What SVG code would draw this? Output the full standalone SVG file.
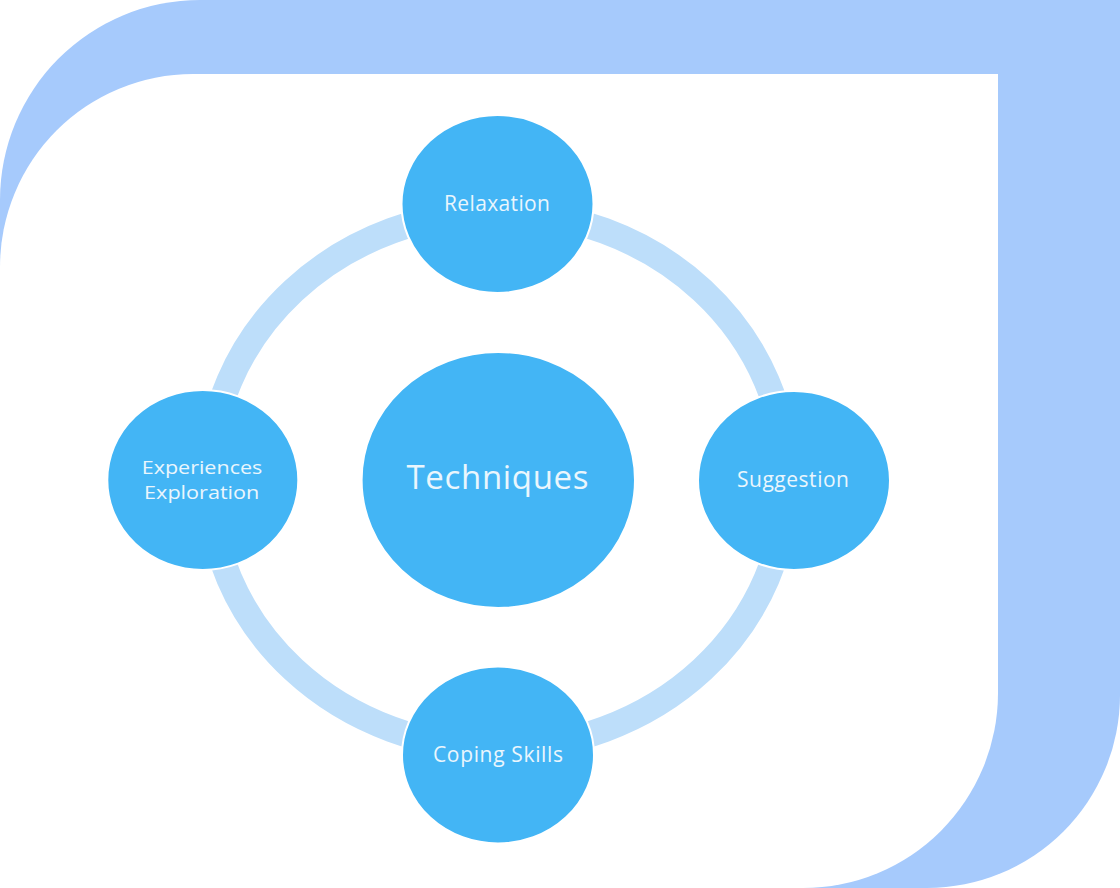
<svg xmlns="http://www.w3.org/2000/svg" width="1120" height="888" viewBox="0 0 1120 888">
<style>
.bg{fill:#a6cafc}
.inner{fill:#ffffff}
.node{fill:#43b5f5;stroke:#ffffff;stroke-width:2}
.ring{fill:none;stroke:#bddefa;stroke-width:26}
.lbl{font-family:"Open Sans","Noto Sans","Liberation Sans",sans-serif;fill:#eaf6fd;text-anchor:middle;font-size:21px}
.two{font-size:18px}
.big{font-size:33px}
</style>
<rect width="1120" height="888" fill="#ffffff"/>
<path class="bg" d="M0,200 A200,200 0 0 1 200,0 H1120 V695 A193,193 0 0 1 927,888 H0 Z"/>
<path class="inner" d="M0,267 A193,193 0 0 1 193,74 H998 V693 A195,195 0 0 1 803,888 H0 Z"/>
<g id="connectors">
<ellipse class="ring" cx="498" cy="480" rx="289" ry="268"/>
</g>
<g id="center">
<ellipse class="node" cx="498.3" cy="480" rx="136.7" ry="128"/>
<text class="lbl big" x="497.5" y="489.3" textLength="182" lengthAdjust="spacing">Techniques</text>
</g>
<g id="relaxation">
<ellipse class="node" cx="497.5" cy="204" rx="96" ry="89"/>
<text class="lbl" x="497" y="210.7" textLength="106" lengthAdjust="spacing">Relaxation</text>
</g>
<g id="suggestion">
<ellipse class="node" cx="794" cy="480.5" rx="96" ry="89.5"/>
<text class="lbl" x="793" y="486.7" textLength="112" lengthAdjust="spacing">Suggestion</text>
</g>
<g id="coping">
<ellipse class="node" cx="498" cy="755" rx="96" ry="88.5"/>
<text class="lbl" x="498" y="761.7" textLength="130" lengthAdjust="spacing">Coping Skills</text>
</g>
<g id="experiences">
<ellipse class="node" cx="202.8" cy="480" rx="95.5" ry="90"/>
<text class="lbl two" x="202" y="473.5" textLength="120.6" lengthAdjust="spacingAndGlyphs">Experiences</text>
<text class="lbl two" x="201.7" y="498.5" textLength="115.3" lengthAdjust="spacingAndGlyphs">Exploration</text>
</g>
</svg>
